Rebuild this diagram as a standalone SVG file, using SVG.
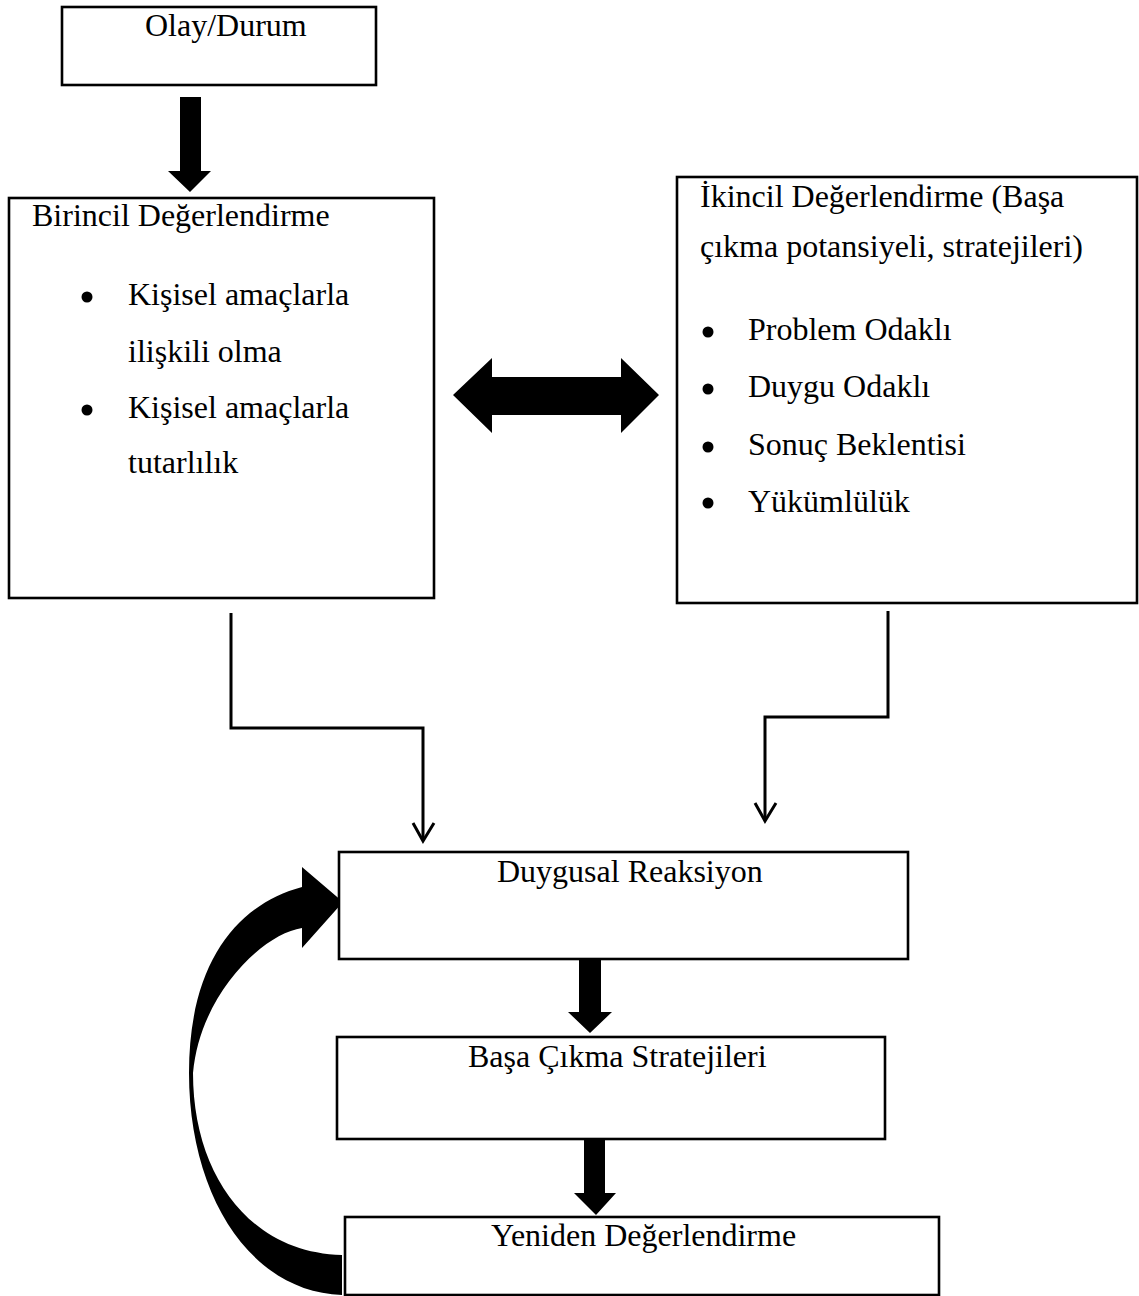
<svg xmlns="http://www.w3.org/2000/svg" width="1139" height="1296" viewBox="0 0 1139 1296">
<style>
.box{fill:#fff;stroke:#000;stroke-width:2.6}
.t{font-family:"Liberation Serif","Times New Roman",serif;font-size:32px;fill:#000}
.line{fill:none;stroke:#000;stroke-width:3}
.head{fill:none;stroke:#000;stroke-width:3;stroke-linejoin:miter}
.solid{fill:#000;stroke:none}
</style>
<rect width="1139" height="1296" fill="#fff"/>
<g id="connectors">
  <polygon class="solid" points="180,97 201,97 201,171 211,171 190,192 168,171 180,171"/>
  <polygon class="solid" points="453,395 492,358 492,377 621,377 621,358 659,395 621,433 621,415 492,415 492,433"/>
  <polyline class="line" points="231,613 231,728 423,728 423,840"/>
  <polyline class="head" points="413,823 423,841 434,823"/>
  <polyline class="line" points="888,611 888,717 765,717 765,820"/>
  <polyline class="head" points="755,803 765,821 776,803"/>
  <polygon class="solid" points="579,955 601,955 601,1012 612,1012 590,1033 568,1012 579,1012"/>
  <polygon class="solid" points="584,1137 605,1137 605,1193 616,1193 596,1215 574,1193 584,1193"/>
  <path class="solid" d="M342,1295 C250,1292 189,1195 189,1073 C189,965 235,905 302,887 L302,867 L343,902 L302,948 L302,928 C262,934 200,995 193,1073 C193,1175 250,1253 342,1255 Z"/>
</g>
<g id="olay">
  <rect class="box" x="62" y="7" width="314" height="78"/>
  <text class="t" x="145" y="36">Olay/Durum</text>
</g>
<g id="birincil">
  <rect class="box" x="9" y="198" width="425" height="400"/>
  <text class="t" x="32" y="226">Birincil Değerlendirme</text>
  <circle cx="87" cy="297" r="5.5"/>
  <text class="t" x="128" y="305">Kişisel amaçlarla</text>
  <text class="t" x="128" y="362">ilişkili olma</text>
  <circle cx="87" cy="410" r="5.5"/>
  <text class="t" x="128" y="418">Kişisel amaçlarla</text>
  <text class="t" x="128" y="473">tutarlılık</text>
</g>
<g id="ikincil">
  <rect class="box" x="677" y="177" width="460" height="426"/>
  <text class="t" x="700" y="207">İkincil Değerlendirme (Başa</text>
  <text class="t" x="700" y="257">çıkma potansiyeli, stratejileri)</text>
  <circle cx="708" cy="332" r="5.5"/>
  <text class="t" x="748" y="340">Problem Odaklı</text>
  <circle cx="708" cy="389" r="5.5"/>
  <text class="t" x="748" y="397">Duygu Odaklı</text>
  <circle cx="708" cy="447" r="5.5"/>
  <text class="t" x="748" y="455">Sonuç Beklentisi</text>
  <circle cx="708" cy="503" r="5.5"/>
  <text class="t" x="748" y="512">Yükümlülük</text>
</g>
<g id="duygusal">
  <rect class="box" x="339" y="852" width="569" height="107"/>
  <text class="t" x="497" y="882">Duygusal Reaksiyon</text>
</g>
<g id="basa">
  <rect class="box" x="337" y="1037" width="548" height="102"/>
  <text class="t" x="468" y="1067">Başa Çıkma Stratejileri</text>
</g>
<g id="yeniden">
  <rect class="box" x="345" y="1217" width="594" height="78"/>
  <text class="t" x="491" y="1246">Yeniden Değerlendirme</text>
</g>
</svg>
